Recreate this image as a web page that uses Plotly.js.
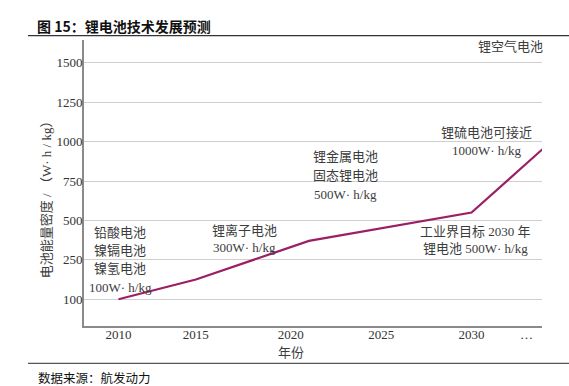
<!DOCTYPE html>
<html>
<head>
<meta charset="utf-8">
<script src="https://cdn.plot.ly/plotly-3.0.1.min.js"></script>
<style>html,body{margin:0;padding:0;background:#fff;}#chart{width:569px;height:386px;}</style>
</head>
<body>
<div id="chart"></div>
<script>
// ---- data ----
const years = [2010, 2015, 2021, 2030, 2034];
const density = [100, 175, 370, 550, 965];
const yTickValues = [100, 250, 500, 750, 1000, 1250, 1500];
const xTickYears = [2010, 2015, 2020, 2025, 2030, 2033];
const xTickLabels = ['2010', '2015', '2020', '2025', '2030', '…'];
const titleText = '图 15：锂电池技术发展预测';
const sourceText = '数据来源：航发动力';
const yTitleText = '电池能量密度 / （W· h / kg）';
const xTitleText = '年份';
const labelAir = ['锂空气电池'];
const labelSulfur = ['锂硫电池可接近', '1000W· h/kg'];
const labelMetal = ['锂金属电池', '固态锂电池', '500W· h/kg'];
const labelTarget = ['工业界目标 2030 年', '锂电池 500W· h/kg'];
const labelIon = ['锂离子电池', '300W· h/kg'];
const labelOld = ['铅酸电池', '镍镉电池', '镍氢电池', '100W· h/kg'];

// ---- scales (the original axes are not evenly spaced) ----
const xSlots = [2010.46, 2014.74, 2020, 2025, 2030, 2033.04];
function interp(v, src, dst) {
  let i = 0;
  if (v <= src[0]) i = 0;
  else if (v >= src[src.length - 1]) i = src.length - 2;
  else { while (v > src[i + 1]) i++; }
  return dst[i] + (v - src[i]) * (dst[i + 1] - dst[i]) / (src[i + 1] - src[i]);
}
const yIdx = yTickValues.map((_, i) => i);
const mapY = v => interp(v, yTickValues, yIdx);
const mapX = v => interp(v, xTickYears, xSlots);

// plot area in pixels
const L = 84, R = 541.7, T = 40, B = 326, W = 569, H = 386;
const px = x => (x - L) / (R - L);
const py = y => (B - y) / (B - T);

const serifCJK = '"Liberation Serif", "Noto Sans CJK SC", serif';
const textCol = '#3c3c3c';

function group(lines, cx, ys) {
  return lines.map((t, i) => ({
    text: t, xref: 'paper', yref: 'paper', x: px(cx), y: py(ys[i]),
    xanchor: 'center', yanchor: 'middle', showarrow: false,
    font: {family: serifCJK, size: 13, color: textCol}
  }));
}

const annotations = [].concat(
  group(labelAir, 510, [46.7]),
  group(labelSulfur, 486.7, [132, 150.7]),
  group(labelMetal, 345, [156.7, 175.7, 194]),
  group(labelTarget, 475, [231, 248.5]),
  group(labelIon, 244, [230, 247]),
  group(labelOld, 120, [232.3, 250.7, 268.3, 287.3]),
  [{
    text: yTitleText, xref: 'paper', yref: 'paper', x: px(46.7), y: py(196.5),
    xanchor: 'center', yanchor: 'middle', textangle: -90, showarrow: false,
    font: {family: serifCJK, size: 13, color: textCol}
  }, {
    text: xTitleText, xref: 'paper', yref: 'paper', x: px(291), y: py(352.5),
    xanchor: 'center', yanchor: 'middle', showarrow: false,
    font: {family: serifCJK, size: 13, color: textCol}
  }, {
    text: sourceText, xref: 'paper', yref: 'paper', x: px(36), y: py(377.5),
    xanchor: 'left', yanchor: 'middle', showarrow: false,
    font: {family: '"Noto Sans CJK SC", sans-serif', size: 12.5, color: '#111'}
  }]
);

const trace = {
  x: years.map(mapX),
  y: density.map(mapY),
  type: 'scatter',
  mode: 'lines',
  line: {color: '#9B1F63', width: 2.2},
  hoverinfo: 'skip'
};

const layout = {
  width: W, height: H,
  margin: {l: L, r: W - R, t: T, b: H - B, pad: 0},
  paper_bgcolor: '#fff', plot_bgcolor: '#fff',
  showlegend: false,
  title: {
    text: '<b>' + titleText + '</b>',
    xref: 'container', yref: 'container',
    x: 37 / W, xanchor: 'left', y: 1 - 27 / H, yanchor: 'middle',
    font: {family: '"Noto Sans CJK SC", sans-serif', size: 14, color: '#111'}
  },
  xaxis: {
    range: [2008.55, 2033.9],
    tickvals: xTickYears.map(mapX), ticktext: xTickLabels,
    showgrid: false, zeroline: false,
    showline: true, linecolor: '#8a8a8a', linewidth: 2,
    ticks: '', ticklabelstandoff: -5,
    tickfont: {family: serifCJK, size: 13, color: '#333'},
    fixedrange: true
  },
  yaxis: {
    range: [-0.68, 6.58],
    tickvals: yIdx, ticktext: yTickValues.map(String),
    showgrid: true, gridcolor: '#cfcfcf', gridwidth: 1,
    zeroline: false,
    showline: true, linecolor: '#8a8a8a', linewidth: 2,
    ticks: '', ticklabelstandoff: -3,
    tickfont: {family: serifCJK, size: 13, color: '#333'},
    fixedrange: true
  },
  shapes: [
    {type: 'line', xref: 'paper', yref: 'paper', x0: px(28), x1: px(569), y0: py(35.7), y1: py(35.7),
     line: {color: '#333', width: 1.2}},
    {type: 'line', xref: 'paper', yref: 'paper', x0: px(28), x1: px(569), y0: py(363.3), y1: py(363.3),
     line: {color: '#555', width: 1.2}}
  ],
  annotations: annotations
};

Plotly.newPlot('chart', [trace], layout, {displayModeBar: false, staticPlot: true});
</script>
</body>
</html>
